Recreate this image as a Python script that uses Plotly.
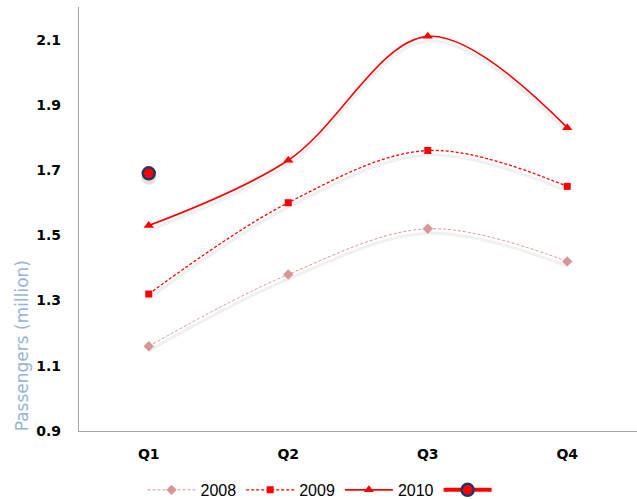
import plotly.graph_objects as go

quarters = ["Q1", "Q2", "Q3", "Q4"]
pax_2008 = [1.16, 1.38, 1.52, 1.42]
pax_2009 = [1.32, 1.60, 1.76, 1.65]
pax_2010 = [1.53, 1.73, 2.11, 1.83]
highlight_q = ["Q1"]
highlight_v = [1.69]

y_ticks = [0.9, 1.1, 1.3, 1.5, 1.7, 1.9, 2.1]

fig = go.Figure()

series = [
    ("2008", pax_2008, "#D99594", "3px,2px", "diamond", 1, 8),
    ("2009", pax_2009, "#FF0000", "3px,2px", "square", 1.3, 7),
    ("2010", pax_2010, "#FF0000", "solid", "triangle-up", 1.6, 9),
]

# soft drop shadows under each curve
for name, vals, color, dash, sym, w, ms in series:
    fig.add_trace(go.Scatter(
        x=quarters, y=[v - 0.014 for v in vals], mode="lines",
        line=dict(color="rgba(0,0,0,0.06)", width=3, shape="spline", smoothing=1.0),
        hoverinfo="skip", showlegend=False,
    ))

for name, vals, color, dash, sym, w, ms in series:
    fig.add_trace(go.Scatter(
        x=quarters, y=vals, name=name, mode="lines+markers",
        line=dict(color=color, width=w, dash=dash, shape="spline", smoothing=1.0),
        marker=dict(symbol=sym, size=ms, color=color),
    ))

fig.add_trace(go.Scatter(
    x=highlight_q, y=[v - 0.012 for v in highlight_v], mode="markers",
    marker=dict(size=15, color="rgba(0,0,0,0.12)"),
    hoverinfo="skip", showlegend=False,
))
fig.add_trace(go.Scatter(
    x=highlight_q, y=highlight_v, name=" ", mode="lines+markers",
    line=dict(color="#FF0000", width=4),
    marker=dict(symbol="circle", size=12, color="#FF0000",
                line=dict(color="#1F3864", width=2.5)),
))

# axis title placed low along the value axis
fig.add_annotation(
    text="Passengers (million)", textangle=-90, showarrow=False,
    xref="paper", yref="paper", x=-0.102, y=0.2,
    xanchor="center", yanchor="middle",
    font=dict(size=17, color="#95B3D7", family="DejaVu Sans"),
)

fig.update_layout(
    width=637, height=499,
    margin=dict(l=79, r=0, t=7, b=68, autoexpand=False),
    plot_bgcolor="white", paper_bgcolor="white",
    font=dict(family="DejaVu Sans", color="black"),
    xaxis=dict(
        type="category", range=[-0.5, 3.5], showgrid=False,
        showline=True, linecolor="#A6A6A6", linewidth=1.2,
        ticks="", tickfont=dict(size=14, family="DejaVu Sans", weight="bold"),
        ticklabelstandoff=10,
    ),
    yaxis=dict(
        range=[0.9, 2.2], tickvals=y_ticks, ticktext=[f"{v:.1f}" for v in y_ticks],
        showgrid=False, zeroline=False,
        showline=True, linecolor="#A6A6A6", linewidth=1.2,
        ticks="", tickfont=dict(size=14, family="DejaVu Sans", weight="bold"),
        ticklabelstandoff=14,
    ),
    legend=dict(
        orientation="h", x=0.44, xanchor="center", y=-0.139, yanchor="middle",
        font=dict(size=16, color="black", family="Liberation Sans"),
        itemwidth=48, traceorder="normal",
    ),
)

fig.write_html("out.html")
